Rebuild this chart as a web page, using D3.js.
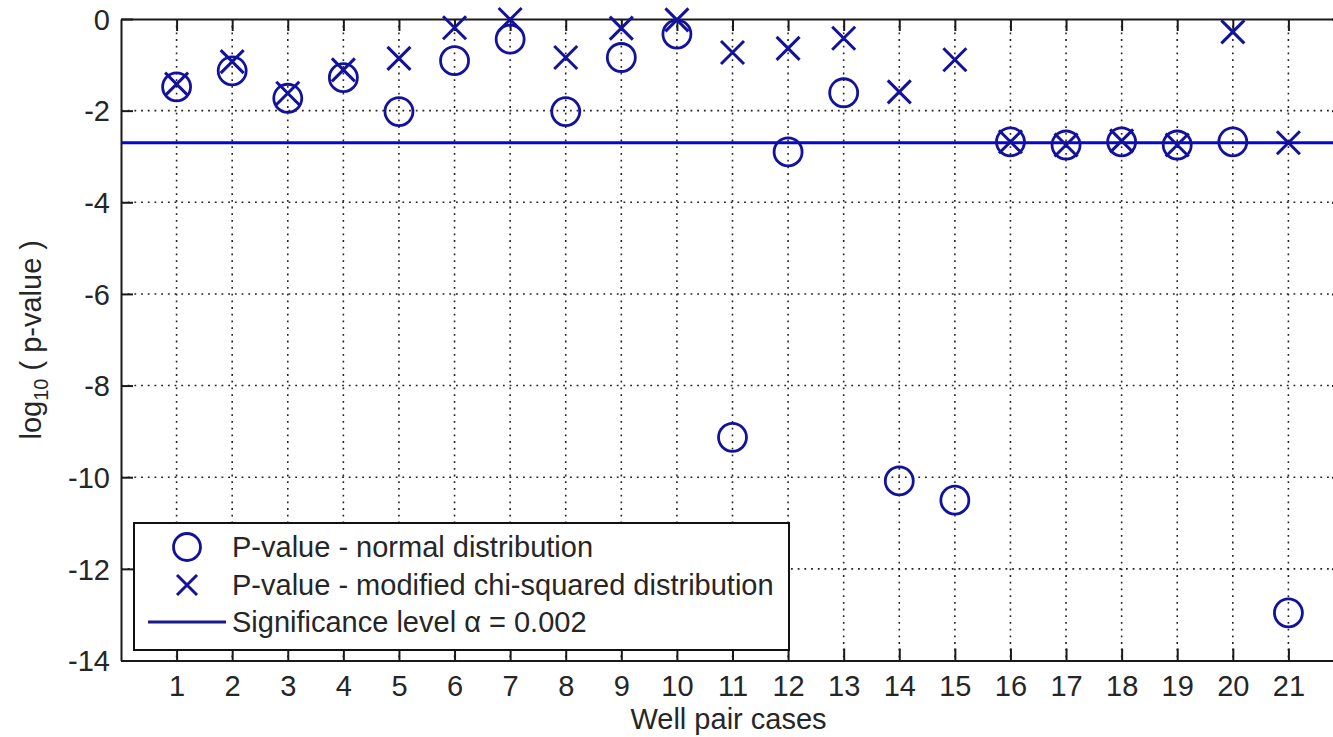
<!DOCTYPE html>
<html>
<head>
<meta charset="utf-8">
<script src="https://cdn.jsdelivr.net/npm/d3@7"></script>
<style>
  html, body { margin: 0; padding: 0; background: #ffffff; }
  svg { display: block; }
  text { font-family: Arial, "Liberation Sans", Helvetica, sans-serif; fill: #262626; }
</style>
</head>
<body>
<svg id="chart" width="1333" height="737"></svg>
<script>
// Well pair case numbers (x categories)
const cases = [1, 2, 3, 4, 5, 6, 7, 8, 9, 10, 11, 12, 13, 14, 15, 16, 17, 18, 19, 20, 21];
// log10 of p-value, normal distribution
const normalLog = [-1.48, -1.13, -1.73, -1.28, -2.02, -0.91, -0.44, -2.02, -0.84, -0.33,
                   -9.13, -2.90, -1.61, -10.08, -10.50, -2.68, -2.75, -2.68, -2.75, -2.68, -12.96];
// log10 of p-value, modified chi-squared distribution
const chiLog = [-1.42, -0.93, -1.62, -1.11, -0.86, -0.19, -0.01, -0.84, -0.20, -0.02,
                -0.73, -0.64, -0.42, -1.59, -0.89, -2.68, -2.75, -2.66, -2.75, -0.28, -2.70];
// significance level
const alpha = 0.002;
// axis ticks
const yTicks = [0, -2, -4, -6, -8, -10, -12, -14];
const legendLabels = [
  "P-value - normal distribution",
  "P-value - modified chi-squared distribution",
  "Significance level \u03b1 = 0.002"
];

const markerColor = "#12129e";
const lineColor = "#0606cc";
const axisColor = "#1a1a1a";
const fontSize = "29px";

const svg = d3.select("#chart");

const x = d3.scaleLinear().domain([0, 22]).range([121, 1344]);
const y = d3.scaleLinear().domain([-14, 0]).range([660.5, 19]);

const [xl, xr] = x.range();
const [yb, yt] = y.range();

// dotted grid
const grid = svg.append("g")
  .attr("stroke", "#222")
  .attr("stroke-width", 1.6)
  .attr("stroke-dasharray", "1.8,4.9")
  .attr("fill", "none");
grid.selectAll("line.vx").data(cases).join("line")
  .attr("class", "vx")
  .attr("x1", d => x(d)).attr("x2", d => x(d))
  .attr("y1", yt).attr("y2", yb);
grid.selectAll("line.hy").data(yTicks.filter(v => v !== 0 && v !== -14)).join("line")
  .attr("class", "hy")
  .attr("x1", xl).attr("x2", xr)
  .attr("y1", d => y(d)).attr("y2", d => y(d));

// axes with inward ticks on all four sides
const tick = 12;
const bottom = svg.append("g").attr("transform", `translate(0,${yb})`)
  .call(d3.axisBottom(x).tickValues(cases).tickSizeInner(-tick).tickSizeOuter(0).tickFormat(d => String(d)));
bottom.selectAll("text").attr("y", 0).attr("dy", 0).attr("transform", "translate(0,35)")
  .style("font-size", fontSize);

const left = svg.append("g").attr("transform", `translate(${xl},0)`)
  .call(d3.axisLeft(y).tickValues(yTicks).tickSizeInner(-tick).tickSizeOuter(0).tickFormat(d => String(d)));
left.selectAll("text").attr("x", -11).attr("dy", "0.35em").style("font-size", fontSize);

svg.append("g").attr("transform", `translate(0,${yt})`)
  .call(d3.axisTop(x).tickValues(cases).tickSizeInner(-tick).tickSizeOuter(0).tickFormat(""));
svg.append("g").attr("transform", `translate(${xr},0)`)
  .call(d3.axisRight(y).tickValues(yTicks).tickSizeInner(-tick).tickSizeOuter(0).tickFormat(""));

svg.selectAll(".domain").attr("stroke", axisColor).attr("stroke-width", 2);
svg.selectAll(".tick line").attr("stroke", axisColor).attr("stroke-width", 2);
svg.selectAll(".tick text").attr("fill", "#262626").attr("font-family", null);

// significance level line
const sig = Math.log10(alpha);
svg.append("line")
  .attr("x1", xl).attr("x2", xr)
  .attr("y1", y(sig)).attr("y2", y(sig))
  .attr("stroke", lineColor).attr("stroke-width", 3);

// marker helpers
const R = 14, C = 11.5;
function crossPath(cx, cy, s) {
  return `M${cx - s},${cy - s}L${cx + s},${cy + s}M${cx - s},${cy + s}L${cx + s},${cy - s}`;
}

// normal distribution p-values (circles)
svg.append("g").selectAll("circle").data(cases).join("circle")
  .attr("cx", d => x(d)).attr("cy", (d, i) => y(normalLog[i]))
  .attr("r", R).attr("fill", "none")
  .attr("stroke", markerColor).attr("stroke-width", 2.8);

// modified chi-squared p-values (crosses)
svg.append("g").selectAll("path").data(cases).join("path")
  .attr("d", (d, i) => crossPath(x(d), y(chiLog[i]), C))
  .attr("fill", "none").attr("stroke", markerColor).attr("stroke-width", 3);

// axis titles
svg.append("text")
  .attr("x", (xl + xr) / 2 - 4).attr("y", 729)
  .attr("text-anchor", "middle").style("font-size", fontSize)
  .text("Well pair cases");

const yTitle = svg.append("text")
  .attr("transform", `translate(41,${(yb + yt) / 2})rotate(-90)`)
  .attr("text-anchor", "middle").style("font-size", fontSize);
yTitle.append("tspan").text("log");
yTitle.append("tspan").attr("dy", 7).style("font-size", "20px").text("10");
yTitle.append("tspan").attr("dy", -7).text(" ( p-value )");

// legend
const lg = svg.append("g");
lg.append("rect")
  .attr("x", 134).attr("y", 523).attr("width", 655).attr("height", 127)
  .attr("fill", "#fff").attr("stroke", "#111").attr("stroke-width", 2);
const rows = [547, 585, 622];
lg.append("circle").attr("cx", 187).attr("cy", rows[0]).attr("r", 13.5)
  .attr("fill", "none").attr("stroke", markerColor).attr("stroke-width", 2.8);
lg.append("path").attr("d", crossPath(187, rows[1], 10))
  .attr("fill", "none").attr("stroke", markerColor).attr("stroke-width", 3);
lg.append("line").attr("x1", 148).attr("x2", 226).attr("y1", rows[2]).attr("y2", rows[2])
  .attr("stroke", "#1a1a88").attr("stroke-width", 3);
lg.selectAll("text.lbl").data(legendLabels).join("text")
  .attr("class", "lbl")
  .attr("x", 232).attr("y", (d, i) => rows[i] + 10)
  .style("font-size", fontSize)
  .text(d => d);
</script>
</body>
</html>
